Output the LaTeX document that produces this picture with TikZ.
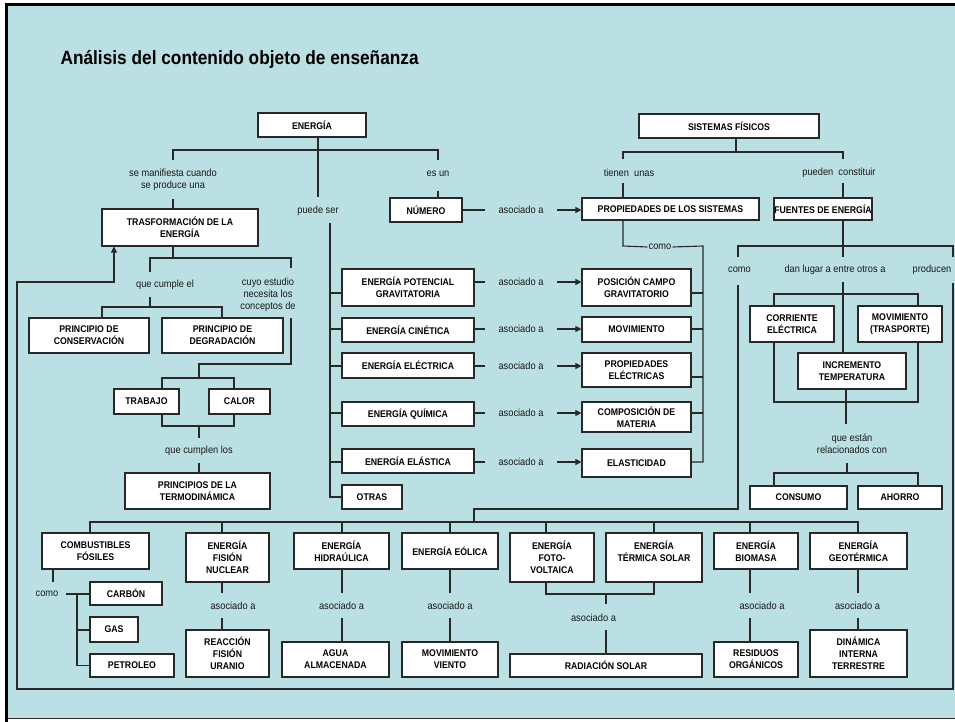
\documentclass[tikz,border=0pt]{standalone}
\usepackage{fontspec}
\setmainfont{Liberation Sans}[FakeStretch=0.9]
\usetikzlibrary{arrows.meta}
\definecolor{bg}{RGB}{187,224,227}
\definecolor{linec}{RGB}{40,40,40}
\newcommand{\boxfont}{\fontsize{9.7}{12}\selectfont\bfseries}
\newcommand{\labfont}{\fontsize{10.3}{12.3}\selectfont}
\newcommand{\titlefont}{\fontsize{19.2}{22}\selectfont\bfseries}
\begin{document}
\begin{tikzpicture}[x=1pt,y=-1pt,
  box/.style={draw=linec, fill=white, line width=1.1pt, inner sep=0pt, align=center, font=\boxfont},
  sz/.style 2 args={minimum width=#1pt, minimum height=#2pt},
  lab/.style={inner sep=1pt, align=center, font=\labfont, text=black!90},
  asoc/.style={lab, inner xsep=13pt},
  ln/.style={draw=linec, line width=1.1pt},
  arr/.style={ln, -{Triangle[length=6pt,width=6pt]}}]
\useasboundingbox (0,0) rectangle (955,722);
\fill[white] (0,0) rectangle (955,722);
\fill[bg] (5,4) rectangle (955,719);
\draw[linec, line width=1pt] (5,718.5) -- (955,718.5);
\draw[black, line width=3pt] (6.5,722) -- (6.5,4.5) -- (955,4.5);

\node[anchor=west, font=\titlefont] (title) at (57,59) {Análisis del contenido objeto de enseñanza};

% boxes
\node[box, sz={108}{24}] (en) at (312,125) {ENERGÍA};
\node[box, sz={156}{37}] (tr) at (180,227.5) {TRASFORMACIÓN DE LA\\ENERGÍA};
\node[box, sz={72}{24}] (num) at (426,210) {NÚMERO};
\node[box, sz={180}{24}] (sf) at (729,126) {SISTEMAS FÍSICOS};
\node[box, sz={177}{22}] (prop) at (670.5,209) {PROPIEDADES DE LOS SISTEMAS};
\node[box, sz={98}{22}] (fu) at (823,209) {FUENTES DE ENERGÍA};
\node[box, sz={120}{35}] (pc) at (89,335.5) {PRINCIPIO DE\\CONSERVACIÓN};
\node[box, sz={121}{35}] (pd) at (222.5,335.5) {PRINCIPIO DE\\DEGRADACIÓN};
\node[box, sz={65}{25}] (trab) at (146.5,401.5) {TRABAJO};
\node[box, sz={61}{25}] (cal) at (239.5,401.5) {CALOR};
\node[box, sz={145}{36}] (pt) at (197.5,491) {PRINCIPIOS DE LA\\TERMODINÁMICA};
\node[box, sz={132}{37}] (e1) at (408,287.5) {ENERGÍA POTENCIAL\\GRAVITATORIA};
\node[box, sz={132}{24}] (e2) at (408,330) {ENERGÍA CINÉTICA};
\node[box, sz={132}{25}] (e3) at (408,365.5) {ENERGÍA ELÉCTRICA};
\node[box, sz={132}{24}] (e4) at (408,414) {ENERGÍA QUÍMICA};
\node[box, sz={132}{24}] (e5) at (408,461) {ENERGÍA ELÁSTICA};
\node[box, sz={60}{24}] (ot) at (372,497) {OTRAS};
\node[box, sz={109}{37}] (p1) at (636.5,287.5) {POSICIÓN CAMPO\\GRAVITATORIO};
\node[box, sz={109}{25}] (p2) at (636.5,329.5) {MOVIMIENTO};
\node[box, sz={109}{34}] (p3) at (636.5,370) {PROPIEDADES\\ELÉCTRICAS};
\node[box, sz={109}{30}] (p4) at (636.5,417) {COMPOSICIÓN DE\\MATERIA};
\node[box, sz={109}{28}] (p5) at (636.5,463) {ELASTICIDAD};
\node[box, sz={84}{36}] (ce) at (792,324) {CORRIENTE\\ELÉCTRICA};
\node[box, sz={84}{36}] (mt) at (900,324) {MOVIMIENTO\\(TRASPORTE)};
\node[box, sz={108}{36}] (it) at (852,371) {INCREMENTO\\TEMPERATURA};
\node[box, sz={97}{23}] (co) at (798.5,497.5) {CONSUMO};
\node[box, sz={84}{23}] (ah) at (900,497.5) {AHORRO};
\node[box, sz={107}{36}] (cf) at (95.5,551) {COMBUSTIBLES\\FÓSILES};
\node[box, sz={72}{23}] (car) at (126,593.5) {CARBÓN};
\node[box, sz={48}{25}] (gas) at (114,629.5) {GAS};
\node[box, sz={84}{23}] (pet) at (132,665.5) {PETROLEO};
\node[box, sz={83}{49}] (fn) at (227.5,557.5) {ENERGÍA\\FISIÓN\\NUCLEAR};
\node[box, sz={83}{47}] (rf) at (227.5,653.5) {REACCIÓN\\FISIÓN\\URANIO};
\node[box, sz={95}{36}] (hi) at (341.5,551) {ENERGÍA\\HIDRAÚLICA};
\node[box, sz={107}{35}] (ag) at (335.5,659.5) {AGUA\\ALMACENADA};
\node[box, sz={96}{36}] (eo) at (450,551) {ENERGÍA EÓLICA};
\node[box, sz={96}{35}] (mv) at (450,659.5) {MOVIMIENTO\\VIENTO};
\node[box, sz={84}{49}] (fv) at (552,557.5) {ENERGÍA\\FOTO-\\VOLTAICA};
\node[box, sz={96}{49}] (ts) at (654,557.5) {ENERGÍA\\TÉRMICA SOLAR\\\mbox{}};
\node[box, sz={192}{23}] (rs) at (606,665.5) {RADIACIÓN SOLAR};
\node[box, sz={84}{36}] (bi) at (756,551) {ENERGÍA\\BIOMASA};
\node[box, sz={84}{35}] (ro) at (756,659.5) {RESIDUOS\\ORGÁNICOS};
\node[box, sz={97}{36}] (ge) at (858.5,551) {ENERGÍA\\GEOTÉRMICA};
\node[box, sz={97}{47}] (di) at (858.5,653.5) {DINÁMICA\\INTERNA\\TERRESTRE};

% labels
\node[lab] (lsm) at (173,180) {se manifiesta cuando\\se produce una};
\node[lab] (lps) at (318,211) {puede ser};
\node[lab] (lesun) at (438,174) {es un};
\node[lab] (ltu) at (629,173) {tienen\ \ unas};
\node[lab] (lpc) at (839,173) {pueden\ \ constituir};
\node[asoc] (la0) at (521,210) {asociado a};
\node[lab] (lcomo1) at (660,247) {como};
\node[lab] (lcomo2) at (739.5,270) {como};
\node[lab] (ldan) at (835,270) {dan lugar a entre otros a};
\node[lab] (lprod) at (932,270) {producen};
\node[lab] (lqce) at (165,285) {que cumple el};
\node[lab] (lcuyo) at (268,295) {cuyo estudio\\necesita los\\conceptos de};
\node[lab] (lqcl) at (199,451) {que cumplen los};
\node[asoc] (la1) at (521,282) {asociado a};
\node[asoc] (la2) at (521,329) {asociado a};
\node[asoc] (la3) at (521,366) {asociado a};
\node[asoc] (la4) at (521,413) {asociado a};
\node[asoc] (la5) at (521,462) {asociado a};
\node[lab] (lqe) at (852,444) {que están\\relacionados con};
\node[lab] (lcomo3) at (47,594) {como};
\node[lab] (lafn) at (233,606) {asociado a};
\node[lab] (lahi) at (341.5,606) {asociado a};
\node[lab] (laeo) at (450,606) {asociado a};
\node[lab] (lars) at (593.5,618) {asociado a};
\node[lab] (labi) at (762,606) {asociado a};
\node[lab] (lage) at (857.5,606) {asociado a};

% ENERGÍA tree
\draw[ln] (en.south -| lps) -- (318,197);
\draw[ln] (173,160) -- (173,150) -- (438,150) -- (438,160);
\draw[ln] (173,199) -- (lsm |- tr.north);
\draw[ln] (438,191) -- (lesun |- num.north);
\draw[ln] (330,223) -- (330,497) -- (ot.west);
\draw[ln] (330,293) -- (342,293);
\draw[ln] (330,329) -- (e2.west |- la2);
\draw[ln] (330,366) -- (e3.west |- la3);
\draw[ln] (330,413) -- (e4.west |- la4);
\draw[ln] (330,462) -- (e5.west |- la5);
\draw[ln] (num.east) -- (la0.west);
\draw[arr] (la0.east) -- (prop.west |- la0);
\draw[ln] (e1.east |- la1) -- (la1.west);
\draw[arr] (la1.east) -- (p1.west |- la1);
\draw[ln] (e2.east |- la2) -- (la2.west);
\draw[arr] (la2.east) -- (p2.west |- la2);
\draw[ln] (e3.east |- la3) -- (la3.west);
\draw[arr] (la3.east) -- (p3.west |- la3);
\draw[ln] (e4.east |- la4) -- (la4.west);
\draw[arr] (la4.east) -- (p4.west |- la4);
\draw[ln] (e5.east |- la5) -- (la5.west);
\draw[arr] (la5.east) -- (p5.west |- la5);

% TRASFORMACIÓN subtree
\draw[ln] (lsm |- tr.south) -- (173,258);
\draw[ln] (150,272) -- (150,258) -- (291,258) -- (291,268);
\draw[ln] (150,297) -- (150,307);
\draw[ln] (102,318) -- (102,307) -- (222,307) -- (222,318);
\draw[ln] (291,318) -- (291,364) -- (199,364) -- (199,378);
\draw[ln] (162,389) -- (162,378) -- (234,378) -- (234,389);
\draw[ln] (162,414) -- (162,426) -- (234,426) -- (234,414);
\draw[ln] (199,426) -- (199,438);
\draw[ln] (199,463) -- (lqcl |- pt.north);

% SISTEMAS
\draw[ln] (736,138) -- (736,152);
\draw[ln] (623,159) -- (623,152) -- (843,152) -- (843,159);
\draw[ln] (623,183) -- (623,198);
\draw[ln] (843,183) -- (843,198);
\draw[ln] (623,220) -- (623,246) -- (lcomo1.west);
\draw[ln] (lcomo1.east) -- (703,246) -- (703,462) -- (p5.east |- la5);
\draw[ln] (691,293) -- (703,293);
\draw[ln] (p2.east |- la2) -- (703,329);
\draw[ln] (691,377) -- (703,377);
\draw[ln] (p4.east |- la4) -- (703,413);

% FUENTES
\draw[ln] (843,220) -- (843,257);
\draw[ln] (738,257) -- (738,246) -- (953,246) -- (953,257);
\draw[ln] (843,282) -- (843,353);
\draw[ln] (774,306) -- (774,294) -- (918,294) -- (918,306);
\draw[ln] (774,342) -- (774,402) -- (918,402) -- (918,342);
\draw[ln] (846,389) -- (846,424);
\draw[ln] (847,463) -- (847,473);
\draw[ln] (774,486) -- (774,473) -- (918,473) -- (918,486);
\draw[ln] (738,285) -- (738,509) -- (474,509) -- (474,522);
\draw[arr] (953,283) -- (953,689) -- (17,689) -- (17,282) -- (114,282) -- (114,246.5);

% bottom bus
\draw[ln] (90,533) -- (90,522) -- (858,522) -- (858,533);
\foreach \xx in {222,342,450,546,654,750} \draw[ln] (\xx,522) -- (\xx,533);
\draw[ln] (53,569) -- (53,582);
\draw[ln] (66,594) -- (77,594) -- (77,665.5) -- (pet.west);
\draw[ln] (77,594) -- (car.west |- 0,594);
\draw[ln] (77,630) -- (gas.west |- 0,630);
\draw[ln] (222,582) -- (222,593);
\draw[ln] (222,618) -- (222,630);
\draw[ln] (342,569) -- (342,593);
\draw[ln] (342,618) -- (342,642);
\draw[ln] (450,569) -- (450,593);
\draw[ln] (450,618) -- (450,642);
\draw[ln] (546,582) -- (546,594) -- (654,594) -- (654,582);
\draw[ln] (606,594) -- (606,604);
\draw[ln] (606,630) -- (606,654);
\draw[ln] (750,569) -- (750,593);
\draw[ln] (750,618) -- (750,642);
\draw[ln] (858,569) -- (858,593);
\draw[ln] (858,618) -- (858,630);
\end{tikzpicture}
\end{document}
